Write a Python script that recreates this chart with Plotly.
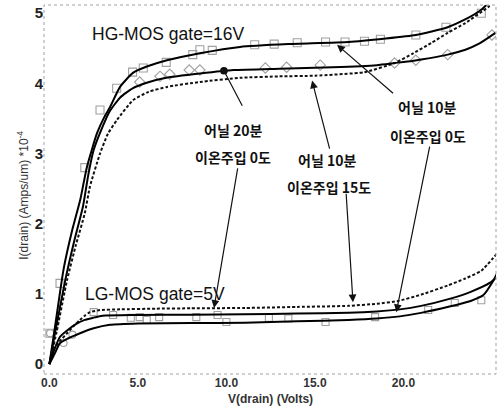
import plotly.graph_objects as go

# ---------------- data ----------------
# HG-MOS gate=16V
hg_a_v = [0, 0.3, 0.8, 1.3, 1.75, 2.12, 2.69, 3.1, 3.42, 3.99, 4.72, 5.5, 6.64, 8.5, 10.77, 13.5, 16.9, 19, 20.7, 21.6, 22.5, 23.4, 24.4, 25.2]
hg_a_i = [0, 0.5, 1.35, 1.92, 2.35, 2.81, 3.29, 3.52, 3.66, 3.95, 4.15, 4.24, 4.33, 4.43, 4.52, 4.56, 4.59, 4.64, 4.69, 4.74, 4.8, 4.9, 5.05, 5.25]
hg_b_v = [0, 0.3, 0.9, 1.4, 1.9, 2.2, 2.5, 3.0, 3.4, 4.0, 4.7, 5.5, 6.6, 8.5, 10.4, 13, 16, 18.5, 19.5, 20.5, 21.5, 22.5, 23.5, 24.3, 25.2]
hg_b_i = [0, 0.42, 1.2, 1.75, 2.25, 2.7, 3.05, 3.38, 3.6, 3.8, 3.93, 4.01, 4.08, 4.14, 4.19, 4.21, 4.23, 4.26, 4.29, 4.32, 4.36, 4.41, 4.48, 4.57, 4.72]
hg_c_v = [0, 0.4, 1.0, 1.5, 2.0, 2.29, 2.86, 3.3, 3.82, 4.72, 5.6, 6.64, 8.5, 10.77, 13, 15, 17.8, 19.5, 20.5, 21.6, 22.5, 23.5, 24.8, 25.2]
hg_c_i = [0, 0.45, 1.2, 1.7, 2.15, 2.53, 3.0, 3.28, 3.48, 3.76, 3.88, 3.95, 4.02, 4.08, 4.1, 4.11, 4.16, 4.29, 4.42, 4.58, 4.72, 4.86, 5.09, 5.18]

# LG-MOS gate=5V
lg_d_v = [0, 0.2, 0.6, 1.0, 1.4, 1.73, 2.0, 2.29, 2.86, 4, 6, 8, 11.05, 14, 16.9, 18.5, 19.7, 21, 22.5, 23.5, 24.4, 25.3]
lg_d_i = [0, 0.2, 0.33, 0.44, 0.55, 0.63, 0.69, 0.74, 0.77, 0.78, 0.79, 0.795, 0.80, 0.815, 0.83, 0.86, 0.9, 0.99, 1.12, 1.22, 1.33, 1.58]
lg_e_v = [0, 0.3, 0.6, 1.0, 1.5, 2.0, 2.46, 3, 5, 8, 11, 14, 16.9, 18.5, 19.8, 21, 22.6, 23.8, 24.9, 25.3]
lg_e_i = [0, 0.22, 0.39, 0.48, 0.57, 0.63, 0.66, 0.69, 0.7, 0.705, 0.71, 0.72, 0.73, 0.75, 0.78, 0.83, 0.93, 1.03, 1.16, 1.25]
lg_f_v = [0, 0.3, 0.6, 1.0, 1.73, 2.5, 3.42, 5, 8, 11.05, 14, 16.9, 18.5, 19.8, 21, 22.6, 23.8, 24.5, 25.1, 25.3]
lg_f_i = [0, 0.15, 0.3, 0.36, 0.44, 0.51, 0.56, 0.58, 0.585, 0.59, 0.61, 0.63, 0.65, 0.68, 0.73, 0.82, 0.9, 0.98, 1.2, 1.3]

# measured points (markers)
sq_hg_v = [0.03, 0.6, 2.0, 2.86, 3.8, 4.7, 5.3, 6.6, 8.1, 8.5, 9.2, 11.6, 12.7, 14.0, 15.6, 16.7, 17.8, 18.7, 20.7, 22.4, 24.4]
sq_hg_i = [0.44, 1.15, 2.8, 3.62, 3.93, 4.16, 4.22, 4.3, 4.41, 4.48, 4.47, 4.55, 4.56, 4.58, 4.59, 4.59, 4.6, 4.63, 4.69, 4.8, 5.0]
ci_hg_v = [5.1, 6.25, 6.8, 7.9, 8.5, 12.2, 13.4, 15.3, 19.5, 20.7, 22.5, 25.0]
ci_hg_i = [4.02, 4.1, 4.13, 4.19, 4.19, 4.22, 4.23, 4.26, 4.29, 4.33, 4.41, 4.69]
sq_lg_v = [2.5, 3.6, 4.6, 5.1, 5.5, 6.2, 8.3, 9.5, 10.0, 12.4, 13.5, 15.6, 18.4, 21.4, 22.9, 24.4]
sq_lg_i = [0.74, 0.7, 0.66, 0.67, 0.63, 0.67, 0.67, 0.7, 0.6, 0.66, 0.65, 0.6, 0.67, 0.77, 0.87, 0.91]
ci_lg_v = [0.04, 0.8, 1.3]
ci_lg_i = [0.44, 0.3, 0.42]

x_ticks = [0, 5, 10, 15, 20]
x_tick_text = ["0.0", "5.0", "10.0", "15.0", "20.0"]
y_ticks = [0, 1, 2, 3, 4, 5]

fig = go.Figure()

solid = dict(color="black", width=2)
dashed = dict(color="#111", width=2, dash="3px,2px")

def add_line(v, i, line):
    fig.add_trace(go.Scatter(x=v, y=i, mode="lines", line=line, line_shape="spline",
                             line_smoothing=0.5, hoverinfo="skip", showlegend=False))

mk_gray = "#a0a0a0"
fig.add_trace(go.Scatter(x=sq_hg_v, y=sq_hg_i, mode="markers", showlegend=False,
                         marker=dict(symbol="square-open", size=8, color=mk_gray, line=dict(width=1.1))))
fig.add_trace(go.Scatter(x=ci_hg_v, y=ci_hg_i, mode="markers", showlegend=False,
                         marker=dict(symbol="diamond-open", size=8, color=mk_gray, line=dict(width=1.1))))
fig.add_trace(go.Scatter(x=sq_lg_v, y=sq_lg_i, mode="markers", showlegend=False,
                         marker=dict(symbol="square-open", size=7, color=mk_gray, line=dict(width=1.1))))
fig.add_trace(go.Scatter(x=ci_lg_v, y=ci_lg_i, mode="markers", showlegend=False,
                         marker=dict(symbol="circle-open", size=7, color=mk_gray, line=dict(width=1.1))))

add_line(hg_c_v, hg_c_i, dashed)
add_line(hg_a_v, hg_a_i, solid)
add_line(hg_b_v, hg_b_i, solid)
add_line(lg_d_v, lg_d_i, dashed)
add_line(lg_e_v, lg_e_i, solid)
add_line(lg_f_v, lg_f_i, solid)

kfont = dict(family="Noto Sans CJK KR", size=14, color="#111", weight=700)
efont = dict(family="Liberation Sans, Arial", size=17.5, color="#111")

texts = [
    ("어닐 20분", 10.37, 3.34), ("이온주입 0도", 10.37, 2.95),
    ("어닐 10분", 15.68, 2.91), ("이온주입 15도", 15.8, 2.52),
    ("어닐 10분", 21.33, 3.66), ("이온주입 0도", 21.39, 3.25),
]
for t, xv, yv in texts:
    fig.add_annotation(x=xv, y=yv, text=t, showarrow=False, font=kfont,
                       xanchor="center", yanchor="middle")

fig.add_annotation(x=2.3, y=4.70, text="HG-MOS gate=16V", showarrow=False, font=efont,
                   xanchor="left", yanchor="middle")
fig.add_annotation(x=1.9, y=1.0, text="LG-MOS gate=5V", showarrow=False, font=efont,
                   xanchor="left", yanchor="middle")

# arrows: (tip_x, tip_y, tail_x, tail_y, head)
arrows = [
    (9.86, 4.18, 10.94, 3.66, 6),
    (9.3, 0.80, 10.65, 2.81, 2),
    (14.84, 4.04, 15.85, 3.05, 2),
    (17.15, 0.88, 16.76, 2.45, 2),
    (16.25, 4.55, 19.5, 3.84, 2),
    (19.6, 0.74, 21.5, 3.12, 2),
]
for tx, ty, sx, sy, hd in arrows:
    fig.add_annotation(x=tx, y=ty, ax=sx, ay=sy, xref="x", yref="y", axref="x", ayref="y",
                       text="", showarrow=True, arrowhead=hd, arrowsize=1.6 if hd == 6 else 1.3,
                       arrowwidth=1.2, arrowcolor="#111", standoff=0)

fig.add_annotation(xref="paper", yref="paper", x=-0.047, y=0.485,
                   text="I(drain) (Amps/um) *10<sup>-4</sup>", textangle=-90, showarrow=False,
                   font=dict(family="Liberation Sans, Arial", size=12, color="#333"),
                   xanchor="center", yanchor="middle")
fig.add_annotation(xref="paper", yref="paper", x=0.5, y=-0.068,
                   text="V(drain) (Volts)", showarrow=False,
                   font=dict(family="Liberation Sans, Arial", size=12, color="#333", weight=700),
                   xanchor="center", yanchor="middle")

fig.add_shape(type="rect", xref="paper", yref="paper", x0=0, x1=1, y0=0, y1=1,
              line=dict(color="#a0a0a0", width=1, dash="dot"))

fig.update_xaxes(range=[-0.305, 25.23], tickvals=x_ticks, ticktext=x_tick_text,
                 showgrid=False, zeroline=False, showline=False, ticks="",
                 tickfont=dict(family="Liberation Sans, Arial", size=12, color="#333", weight=700))
fig.update_yaxes(range=[-0.141, 5.117], tickvals=y_ticks,
                 showgrid=False, zeroline=False, showline=False, ticks="",
                 tickfont=dict(family="Liberation Sans, Arial", size=15, color="#222", weight=700))

fig.update_layout(width=498, height=410, margin=dict(l=44, r=2, t=5, b=36),
                  paper_bgcolor="white", plot_bgcolor="white", showlegend=False)

fig.write_html("out.html")
